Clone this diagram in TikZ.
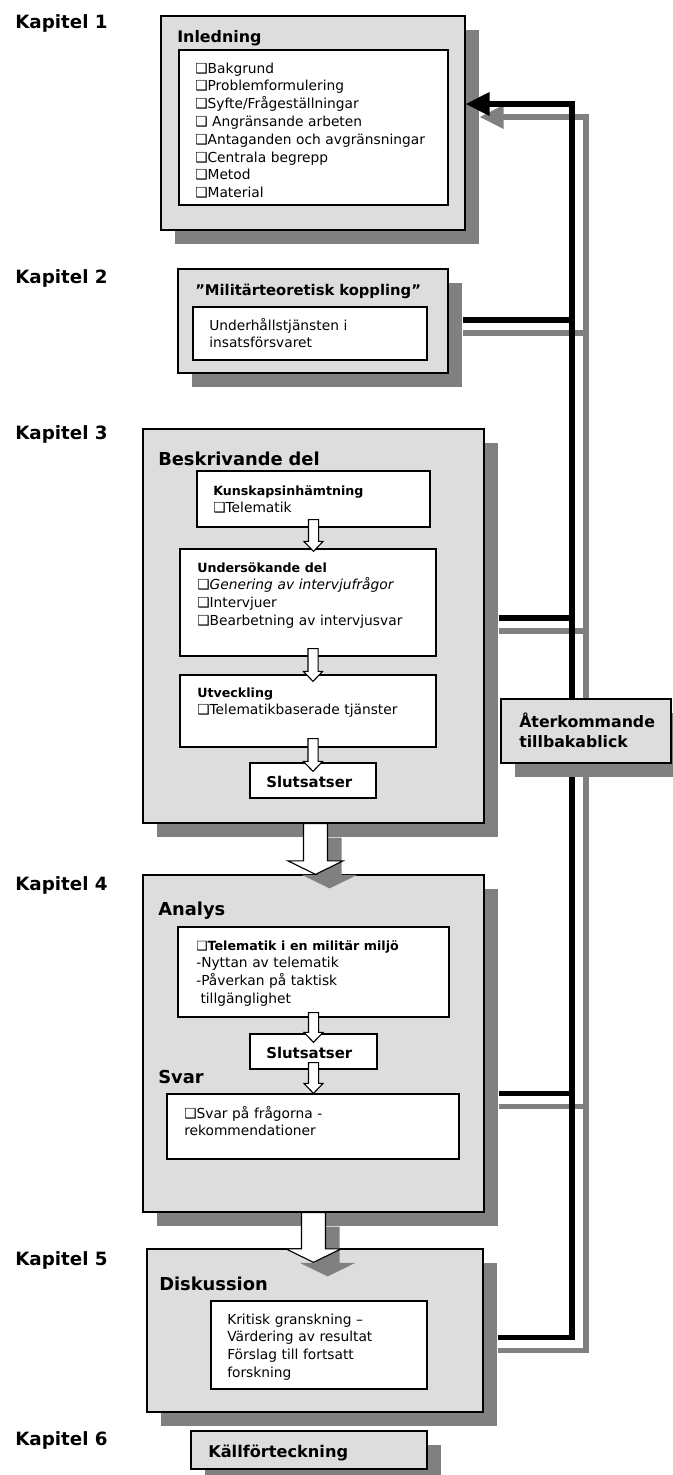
\documentclass[tikz,border=0pt]{standalone}
\usepackage{fontspec}
\setmainfont{DejaVu Sans}
\usetikzlibrary{arrows.meta,fit,calc,shadows}
\definecolor{ink}{HTML}{000000}
\definecolor{panel}{HTML}{DDDDDD}
\definecolor{shade}{HTML}{808080}
\tikzset{
  chap/.style={draw=ink, line width=0.9pt, fill=panel, inner sep=0pt,
               general shadow={fill=shade, shadow xshift=10pt, shadow yshift=-10pt}},
  sub/.style={draw=ink, line width=0.9pt, fill=white, inner sep=0pt},
  kap/.style={anchor=base west, inner sep=0pt, font=\fontsize{13}{15}\selectfont\bfseries},
  ttl/.style={anchor=base west, inner sep=0pt, align=left, text width=8cm,
              font=\fontsize{12.7}{14.9}\selectfont\bfseries},
  itm/.style={anchor=base west, inner sep=0pt, align=left, text width=7cm,
              font=\fontsize{9.8}{12.66}\selectfont},
  % ---- hollow block arrows, drawn from box to box ----
  hollow/.style n args={3}{draw=ink, line width=0.8pt, fill=white,
    to path={let \p1=(\tikztostart), \p2=(\tikztotarget) in
      (\x1-#1,\y1) -- (\x1-#1,\y2+#3) -- (\x1-#2,\y2+#3) -- (\x1,\y2)
      -- (\x1+#2,\y2+#3) -- (\x1+#1,\y2+#3) -- (\x1+#1,\y1) -- cycle}},
  flow/.style={hollow={3.6pt}{6.8pt}{7.1pt}},
  bigflow/.style={hollow={8.5pt}{19.6pt}{9.6pt},
                  general shadow={fill=shade, shadow xshift=10pt, shadow yshift=-10pt}},
  busline/.style={line width=3.6pt},
}
\newcommand{\hd}{\fontsize{9}{12.66}\selectfont\bfseries}

\begin{document}
\begin{tikzpicture}[x=0.025cm, y=-0.025cm]
\path[use as bounding box, fill=white] (0,0) rectangle (672,1475);
% chapter labels
\node[kap] (k1) at (15,28) {Kapitel 1};
\node[kap] (k2) at (15,283) {Kapitel 2};
\node[kap] (k3) at (15,439) {Kapitel 3};
\node[kap] (k4) at (15,890) {Kapitel 4};
\node[kap] (k5) at (15,1265) {Kapitel 5};
\node[kap] (k6) at (15,1445) {Kapitel 6};
% chapter 1
\node[chap, fit={(161,16) (465,230)}] (ch1) {};
\node[ttl, font=\fontsize{11.3}{14}\selectfont\bfseries] (t1) at (177,42) {Inledning};
\node[sub, fit={(179,50) (448,205)}] (inl) {};
\node[itm] (l1) at (195,73) {❑Bakgrund\\❑Problemformulering\\❑Syfte/Frågeställningar\\❑ Angränsande arbeten\\
  ❑Antaganden och avgränsningar\\❑Centrala begrepp\\❑Metod\\❑Material};
% chapter 2
\node[chap, fit={(178,269) (448,373)}] (ch2) {};
\node[ttl, font=\fontsize{10.5}{13}\selectfont\bfseries] (t2) at (195,295) {”Militärteoretisk koppling”};
\node[sub, fit={(193,307) (427,360)}] (mil) {};
\node[itm] (l2) at (209,330) {Underhållstjänsten i\\insatsförsvaret};
% chapter 3
\node[chap, fit={(143,429) (484,823)}] (ch3) {};
\node[ttl] (t3) at (158,465) {Beskrivande del};
\node[sub, fit={(197,471) (430,527)}] (kun) {};
\node[itm] (l3) at (213,495) {{\hd Kunskapsinhämtning}\\❑Telematik};
\node[sub, fit={(180,549) (436,656)}] (und) {};
\node[itm] (l4) at (197,572) {{\hd Undersökande del}\\❑\textit{Genering av intervjufrågor}\\❑Intervjuer\\❑Bearbetning av intervjusvar};
\node[sub, fit={(180,675) (436,747)}] (utv) {};
\node[itm] (l5) at (197,697) {{\hd Utveckling}\\❑Telematikbaserade tjänster};
\node[sub, fit={(250,763) (376,798)}] (sl1) {};
\node[ttl, font=\fontsize{10.6}{13}\selectfont\bfseries] (t4) at (266,787) {Slutsatser};
\draw[flow] ($(kun.south)+(0,-8)$) to ($(und.north)+(0,3)$);
\draw[flow] ($(und.south)+(5,-8)$) to ($(utv.north)+(0,7)$);
\draw[flow] ($(utv.south)+(5,-9)$) to ($(sl1.north)+(0,9)$);
% chapter 4
\node[chap, fit={(143,875) (484,1212)}] (ch4) {};
\node[ttl] (t5) at (158,915) {Analys};
\node[sub, fit={(178,927) (449,1017)}] (tel) {};
\node[itm] (l6) at (196,950) {{\hd ❑Telematik i en militär miljö}\\-Nyttan av telematik\\-Påverkan på taktisk\\\hspace*{3pt}tillgänglighet};
\node[sub, fit={(250,1034) (377,1069)}] (sl2) {};
\node[ttl, font=\fontsize{10.6}{13}\selectfont\bfseries] (t6) at (266,1058) {Slutsatser};
\node[ttl] (t7) at (158,1083) {Svar};
\node[sub, fit={(167,1094) (459,1159)}] (svr) {};
\node[itm] (l7) at (184,1118) {❑Svar på frågorna -\\rekommendationer};
\draw[flow] ($(tel.south)+(0,-5)$) to ($(sl2.north)+(0,9)$);
\draw[flow] ($(sl2.south)+(0,-7)$) to (svr.north);
\draw[bigflow] ($(ch3.south)+(2,0)$) to (ch4.north);
% chapter 5
\node[chap, fit={(147,1249) (483,1412)}] (ch5) {};
\node[ttl] (t8) at (159,1290) {Diskussion};
\node[sub, fit={(211,1301) (427,1389)}] (dis) {};
\node[itm] (l8) at (227,1324) {Kritisk granskning –\\Värdering av resultat\\Förslag till fortsatt\\forskning};
\draw[bigflow] (ch4.south) to ($(ch5.north)+(0,14)$);
% chapter 6
\node[chap, fit={(191,1431) (427,1469)}] (src) {};
\node[ttl, font=\fontsize{11.5}{14}\selectfont\bfseries] (t9) at (208,1457) {Källförteckning};
% feedback bus, shadow copy first
\coordinate (bus) at (572,104);
\foreach \c/\dx/\dy in {shade/14/13, ink/0/0}{
  \coordinate (bb) at ($(bus)+(\dx,\dy)$);
  \draw[busline, draw=\c, -{Triangle[length=17pt,width=16pt]}]
    ($(ch5.east)+(14,7+\dy)$) -| (bb) -- ($(bb -| ch1.east)+(\dx,0)$);
  \foreach \b/\o in {ch2/-1, ch3/-8, ch4/50}
    \draw[busline, draw=\c] ($(\b.east)+(14,\o+\dy)$) coordinate (tap) -- (tap -| bb);
}
\node[chap, fit={(501,699) (671,763)}] (back) {};
\node[ttl, font=\fontsize{11.2}{14.9}\selectfont\bfseries] (t10) at (519,727) {Återkommande\\tillbakablick};
\end{tikzpicture}
\end{document}
